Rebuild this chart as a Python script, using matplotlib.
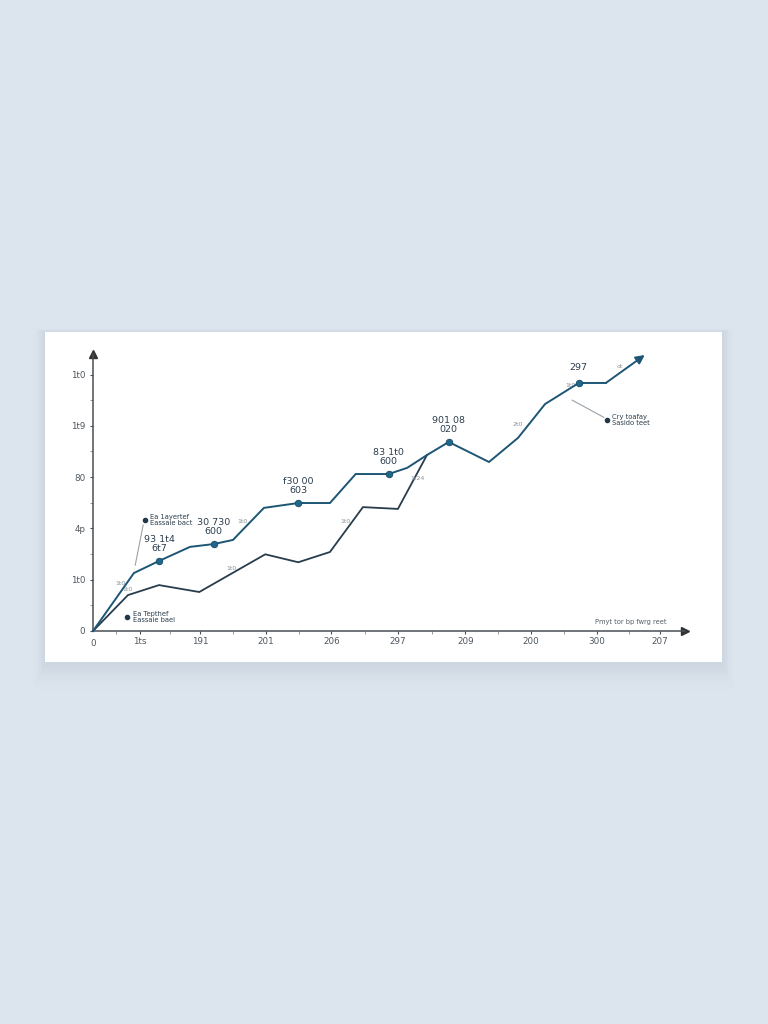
import matplotlib
matplotlib.use("Agg")
import matplotlib.pyplot as plt
from matplotlib.patches import Rectangle

# ---- data ----
upper_x = [0, 0.62, 1.0, 1.47, 1.83, 2.12, 2.59, 3.11, 3.59, 3.98, 4.48, 4.76, 5.06, 5.39, 6.0, 6.44, 6.85, 7.36, 7.77, 8.36]
upper_y = [0, 22.6, 27.3, 32.8, 33.9, 35.5, 48.0, 49.9, 49.9, 61.2, 61.2, 63.6, 68.6, 73.7, 65.9, 75.3, 88.5, 96.7, 96.7, 107.6]
marker_idx = [2, 4, 7, 10, 13, 17]
marker_labels = ["93 1t4\n6t7", "30 730\n600", "f30 00\n603", "83 1t0\n600", "901 08\n020", "297"]

lower_x = [0, 0.53, 1.0, 1.61, 2.61, 3.11, 3.59, 4.09, 4.62, 5.06]
lower_y = [0, 14.0, 17.9, 15.2, 29.9, 26.8, 30.8, 48.3, 47.6, 68.6]

xtick_pos = [0.71, 1.62, 2.62, 3.61, 4.62, 5.64, 6.64, 7.64, 8.59]
xtick_labels = ["1ts", "191", "201", "206", "297", "209", "200", "300", "207"]
ytick_pos = [0, 20, 40, 60, 80, 100]
ytick_labels = ["0", "1t0", "4p", "80", "1t9", "1t0"]

small_labels = [(0.41, 18.4, "1t0"), (0.52, 16.0, "1t0"), (2.26, 42.5, "1t0"), (2.1, 24.2, "1t0"),
                (3.82, 42.5, "1t0"), (4.92, 59.3, "1t24"), (6.44, 80.7, "2t0"), (7.23, 95.6, "1t0"),
                (7.98, 103.0, "ot")]

notes = [(0.79, 43.3, "Ea 1ayertef\nEassaie bact"),
         (0.52, 5.5, "Ea Tepthef\nEassaie bael"),
         (7.79, 82.3, "Cry toafay\nSasido teet")]
leaders = [((0.76, 41.3), (0.64, 25.7)), ((7.26, 90.0), (7.74, 83.3))]

axis_note = "Pmyt tor bp fwrg reet"

# ---- style ----
BG = "#dce5ee"
UPPER = "#1d5675"
MARK = "#20678c"
LOWER = "#283d4c"
TXT = "#2b3e4e"
AX = "#4a4f55"
TICKTXT = "#4e565e"

fig = plt.figure(figsize=(7.68, 10.24), dpi=100, facecolor=BG)

W, H = 768, 1024
cx0, cy0, cx1, cy1 = 45, 332, 722, 662
for i, a in enumerate([0.025, 0.021, 0.018, 0.015, 0.012, 0.009, 0.006, 0.004]):
    d = (i + 1) * 2.5
    fig.patches.append(Rectangle(((cx0 - d * 0.6) / W, 1 - (cy1 + d * 1.4) / H),
                                 (cx1 - cx0 + d * 1.2) / W, (cy1 - cy0 + d * 1.6) / H,
                                 transform=fig.transFigure, facecolor="#6a7d90",
                                 edgecolor="none", alpha=a, zorder=0))
fig.patches.append(Rectangle((cx0 / W, 1 - cy1 / H), (cx1 - cx0) / W, (cy1 - cy0) / H,
                             transform=fig.transFigure, facecolor="white",
                             edgecolor="none", zorder=1))

ax = fig.add_axes([93 / W, 1 - 631 / H, (685 - 93) / W, (631 - 354) / H])
ax.set_facecolor("none")
ax.set_zorder(2)
ax.set_xlim(0, (685 - 93) / 66)
ax.set_ylim(0, 108)

for s in ["top", "right"]:
    ax.spines[s].set_visible(False)
for s in ["left", "bottom"]:
    ax.spines[s].set_color(AX)
    ax.spines[s].set_linewidth(1.1)

ax.plot(0, 1, marker="^", color="#333333", markersize=6, transform=ax.transAxes, clip_on=False)
ax.plot(1, 0, marker=">", color="#333333", markersize=6, transform=ax.transAxes, clip_on=False)

ax.set_xticks(xtick_pos)
ax.set_xticklabels(xtick_labels)
ax.set_xticks([(a + b) / 2 for a, b in zip([0] + xtick_pos[:-1], xtick_pos)], minor=True)
ax.set_yticks(ytick_pos)
ax.set_yticklabels(ytick_labels)
ax.set_yticks([v + 10 for v in ytick_pos[:-1]], minor=True)
ax.tick_params(axis="both", which="major", length=2.5, width=0.8, color=AX,
               labelsize=6.3, labelcolor=TICKTXT, pad=1.5)
ax.tick_params(axis="y", which="major", pad=3)
ax.tick_params(axis="both", which="minor", length=2, width=0.6, color="#888888")
ax.text(0, -3.0, "0", ha="center", va="top", fontsize=6.3, color=TICKTXT)

# lines
ax.plot(lower_x, lower_y, color=LOWER, lw=1.3, solid_joinstyle="miter", clip_on=False, zorder=3)
ax.plot(upper_x[:-1], upper_y[:-1], color=UPPER, lw=1.4, solid_joinstyle="miter", clip_on=False, zorder=4)
ax.annotate("", xy=(upper_x[-1], upper_y[-1]), xytext=(upper_x[-2], upper_y[-2]),
            arrowprops=dict(arrowstyle="-|>", color=UPPER, lw=1.4, mutation_scale=13,
                            shrinkA=0, shrinkB=0), annotation_clip=False, zorder=4)
ax.scatter([upper_x[i] for i in marker_idx], [upper_y[i] for i in marker_idx],
           s=22, color=MARK, edgecolor="#174a66", linewidth=0.6, zorder=5, clip_on=False)

for i, lab in zip(marker_idx, marker_labels):
    off = 6 if "\n" in lab else 8
    ax.annotate(lab, (upper_x[i], upper_y[i]), xytext=(0, off), textcoords="offset points",
                ha="center", va="bottom", fontsize=6.8, color=TXT, linespacing=1.0)

for x, y, t in small_labels:
    ax.text(x, y, t, fontsize=4.5, color="#8a9299", ha="center", va="center")

for (x, y, t) in notes:
    ax.plot(x, y, "o", color="#22384a", markersize=3, clip_on=False, zorder=5)
    ax.text(x + 0.08, y, t, fontsize=4.9, color=TXT, ha="left", va="center", linespacing=1.1)
for (a, b) in leaders:
    ax.plot([a[0], b[0]], [a[1], b[1]], color="#9aa2a8", lw=0.8, zorder=2)

ax.text(8.69, 2.2, axis_note, fontsize=4.8, color="#555d64", ha="right", va="bottom")

fig.savefig("out.png", dpi=100, facecolor=BG)
